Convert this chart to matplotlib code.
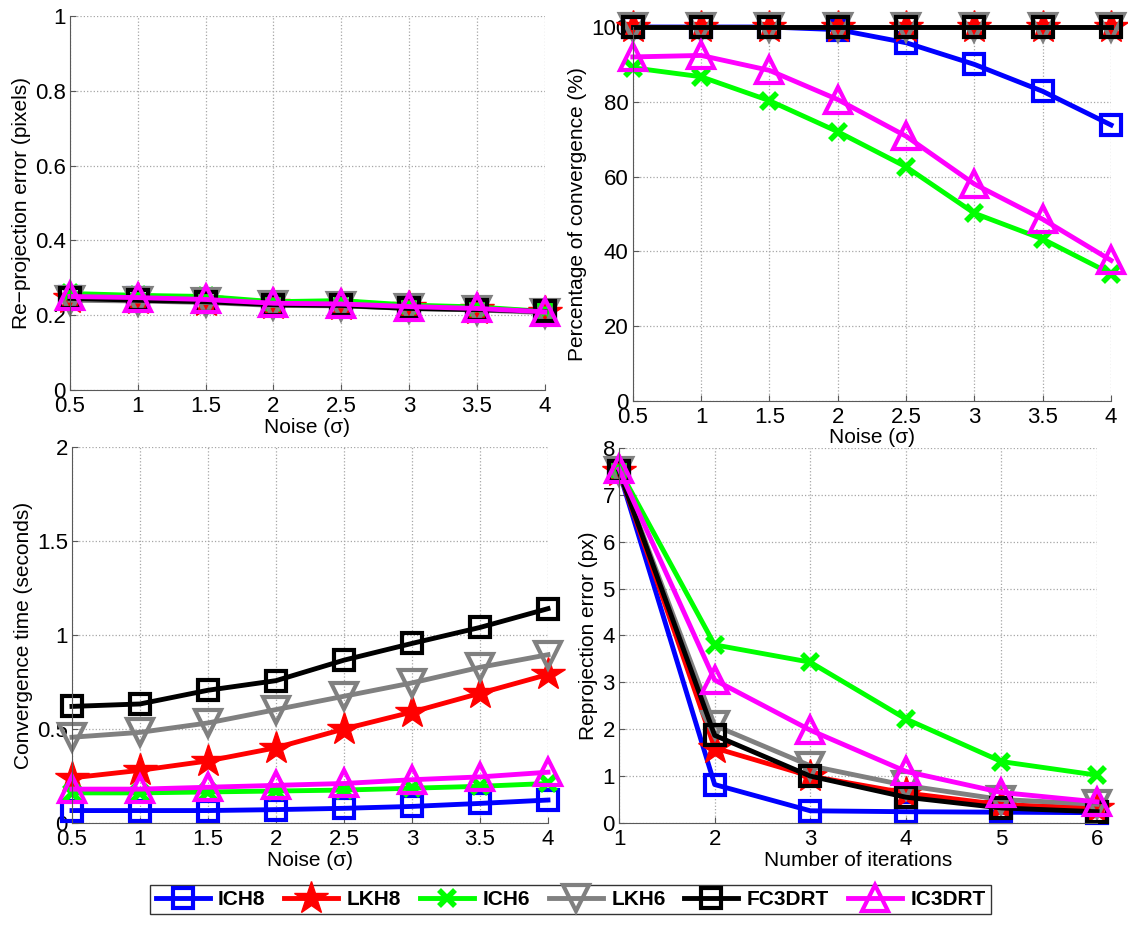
import matplotlib
matplotlib.use('Agg')
import matplotlib.pyplot as plt

plt.rcParams['font.family'] = ['Liberation Sans', 'DejaVu Sans']

noise = [0.5, 1, 1.5, 2, 2.5, 3, 3.5, 4]
iterations = [1, 2, 3, 4, 5, 6]
names = ['ICH8', 'LKH8', 'ICH6', 'LKH6', 'FC3DRT', 'IC3DRT']

# re-projection error vs noise
reproj = {
    'ICH8':   [0.248, 0.245, 0.240, 0.232, 0.230, 0.224, 0.218, 0.210],
    'LKH8':   [0.245, 0.242, 0.238, 0.230, 0.228, 0.221, 0.216, 0.209],
    'ICH6':   [0.258, 0.253, 0.250, 0.236, 0.239, 0.227, 0.222, 0.210],
    'LKH6':   [0.240, 0.238, 0.234, 0.226, 0.225, 0.218, 0.214, 0.207],
    'FC3DRT': [0.245, 0.240, 0.236, 0.228, 0.226, 0.218, 0.215, 0.210],
    'IC3DRT': [0.250, 0.247, 0.242, 0.232, 0.230, 0.223, 0.218, 0.209],
}
# percentage of convergence vs noise
conv = {
    'ICH8':   [100, 100, 100, 99.3, 95.8, 90.0, 82.8, 73.8],
    'LKH8':   [100, 100, 100, 100, 100, 100, 100, 100],
    'ICH6':   [89.1, 86.7, 80.3, 72.0, 62.6, 50.2, 43.3, 34.0],
    'LKH6':   [100, 100, 100, 100, 100, 100, 100, 100],
    'FC3DRT': [100, 100, 100, 100, 100, 100, 100, 100],
    'IC3DRT': [92.0, 92.4, 88.4, 80.6, 70.8, 58.0, 48.6, 37.6],
}
# convergence time vs noise
ctime = {
    'ICH8':   [0.066, 0.066, 0.066, 0.071, 0.078, 0.088, 0.104, 0.122],
    'LKH8':   [0.24, 0.28, 0.33, 0.40, 0.50, 0.59, 0.69, 0.79],
    'ICH6':   [0.16, 0.16, 0.165, 0.17, 0.175, 0.185, 0.195, 0.21],
    'LKH6':   [0.456, 0.482, 0.532, 0.603, 0.674, 0.745, 0.828, 0.895],
    'FC3DRT': [0.62, 0.633, 0.706, 0.757, 0.866, 0.955, 1.04, 1.14],
    'IC3DRT': [0.18, 0.18, 0.19, 0.20, 0.21, 0.23, 0.245, 0.27],
}
# reprojection error vs iterations
iter_err = {
    'ICH8':   [7.5, 0.82, 0.26, 0.24, 0.23, 0.22],
    'LKH8':   [7.5, 1.6, 1.0, 0.64, 0.39, 0.32],
    'ICH6':   [7.55, 3.8, 3.43, 2.22, 1.31, 1.02],
    'LKH6':   [7.5, 2.08, 1.22, 0.8, 0.5, 0.4],
    'FC3DRT': [7.5, 1.87, 1.0, 0.55, 0.32, 0.24],
    'IC3DRT': [7.55, 3.05, 1.98, 1.1, 0.65, 0.45],
}

styles = {
    'ICH8':   dict(color=(0, 0, 1), marker='s', ms=15, mfc='none', mew=3),
    'LKH8':   dict(color=(1, 0, 0), marker='*', ms=25, mfc=(1, 0, 0), mew=1),
    'ICH6':   dict(color=(0, 1, 0), marker='x', ms=12, mfc='none', mew=4),
    'LKH6':   dict(color=(0.5, 0.5, 0.5), marker='v', ms=19, mfc='none', mew=3),
    'FC3DRT': dict(color=(0, 0, 0), marker='s', ms=15, mfc='none', mew=3),
    'IC3DRT': dict(color=(1, 0, 1), marker='^', ms=19, mfc='none', mew=3),
}

fig = plt.figure(figsize=(11.28, 9.25), dpi=100)
ax1 = fig.add_axes([0.062, 0.5784, 0.421, 0.4043])
ax2 = fig.add_axes([0.561, 0.5665, 0.424, 0.4043])
ax3 = fig.add_axes([0.0638, 0.1103, 0.422, 0.4065])
ax4 = fig.add_axes([0.5488, 0.1103, 0.4238, 0.4054])


def draw(ax, x, data):
    lines = []
    for n in names:
        l, = ax.plot(x, data[n], lw=3.5, clip_on=False, label=n, **styles[n])
        lines.append(l)
    ax.grid(True, linestyle=':', color='0.65', linewidth=0.9)
    for s in ['top', 'right']:
        ax.spines[s].set_visible(False)
    for s in ['left', 'bottom']:
        ax.spines[s].set_color('0.35')
    ax.tick_params(direction='in', length=4, labelsize=16, color='0.35')
    ax.tick_params(axis='x', pad=4)
    ax.tick_params(axis='y', pad=3)
    return lines


handles = draw(ax1, noise, reproj)
ax1.set_xlim(0.5, 4)
ax1.set_ylim(0, 1)
ax1.set_yticks([0, 0.2, 0.4, 0.6, 0.8, 1])
ax1.set_yticklabels(['0', '0.2', '0.4', '0.6', '0.8', '1'])
ax1.set_xticks(noise)
ax1.set_xticklabels(['0.5', '1', '1.5', '2', '2.5', '3', '3.5', '4'])
ax1.set_xlabel('Noise (σ)', fontsize=15, labelpad=1)
ax1.set_ylabel('Re−projection error (pixels)', fontsize=15, labelpad=3)

draw(ax2, noise, conv)
ax2.set_xlim(0.5, 4)
ax2.set_ylim(0, 100)
ax2.set_yticks([0, 20, 40, 60, 80, 100])
ax2.set_xticks(noise)
ax2.set_xticklabels(['0.5', '1', '1.5', '2', '2.5', '3', '3.5', '4'])
ax2.set_xlabel('Noise (σ)', fontsize=15, labelpad=0)
ax2.set_ylabel('Percentage of convergence (%)', fontsize=15, labelpad=3)

draw(ax3, noise, ctime)
ax3.set_xlim(0.5, 4)
ax3.set_ylim(0, 2)
ax3.set_yticks([0, 0.5, 1, 1.5, 2])
ax3.set_yticklabels(['0', '0.5', '1', '1.5', '2'])
ax3.set_xticks(noise)
ax3.set_xticklabels(['0.5', '1', '1.5', '2', '2.5', '3', '3.5', '4'])
ax3.set_xlabel('Noise (σ)', fontsize=15, labelpad=1)
ax3.set_ylabel('Convergence time (seconds)', fontsize=15, labelpad=3)

draw(ax4, iterations, iter_err)
ax4.set_xlim(1, 6)
ax4.set_ylim(0, 8)
ax4.set_yticks(range(0, 9))
ax4.set_xticks(iterations)
ax4.set_xlabel('Number of iterations', fontsize=15, labelpad=1)
ax4.set_ylabel('Reprojection error (px)', fontsize=15, labelpad=3)

leg = fig.legend(handles=handles, loc='center', bbox_to_anchor=(0.5058, 0.0276),
                 ncol=6, frameon=True, fancybox=False, handlelength=2.6,
                 handletextpad=0.4, columnspacing=0.9, borderpad=0.25,
                 prop=dict(size=15, weight='bold'))
leg.get_frame().set_edgecolor('black')
leg.get_frame().set_linewidth(1.0)

fig.savefig('out.png', dpi=100)
